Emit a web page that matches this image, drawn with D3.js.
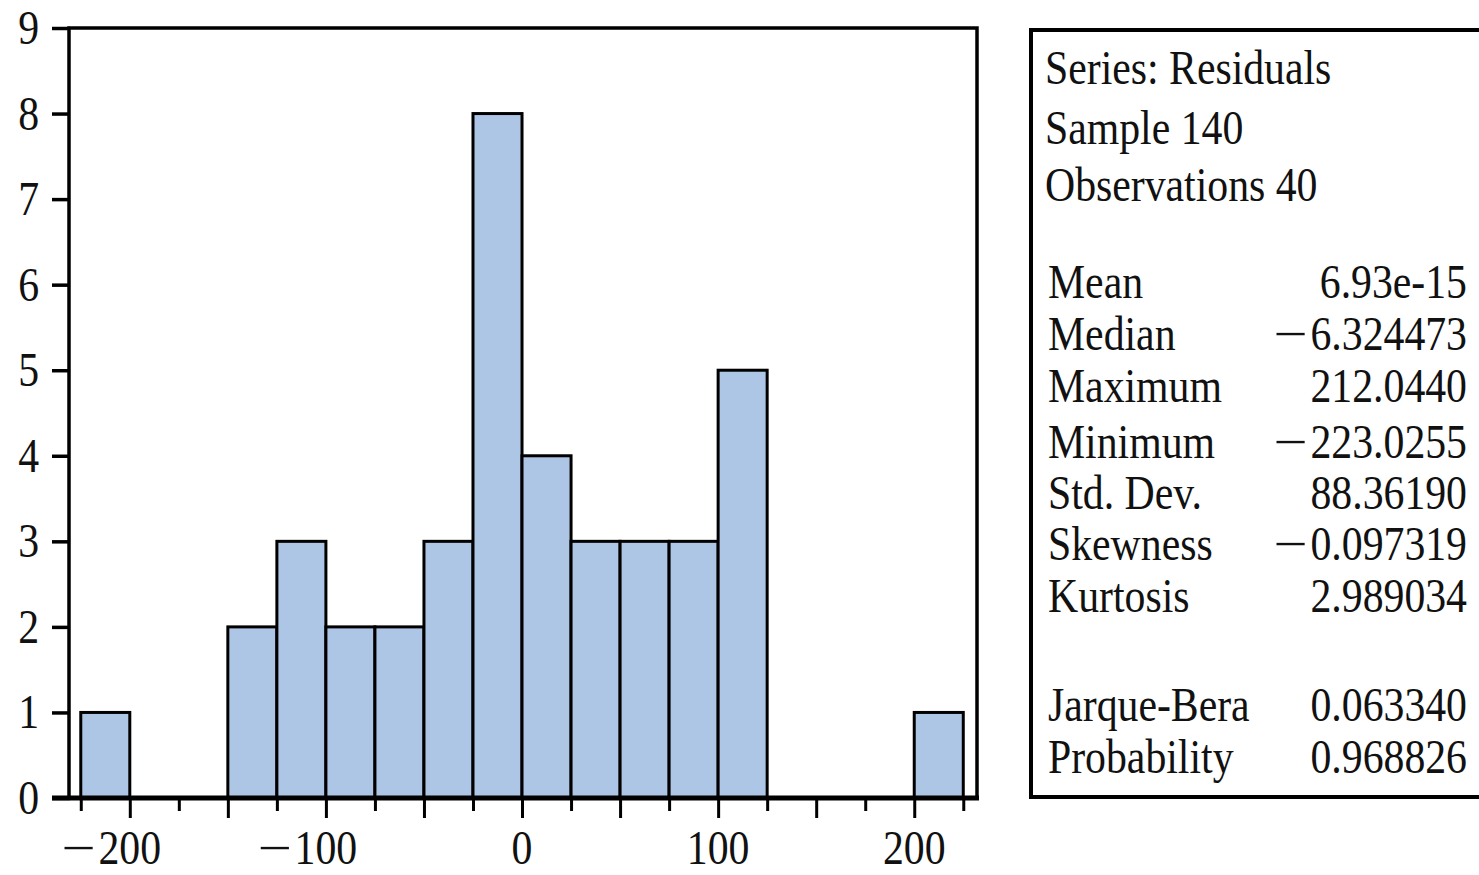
<!DOCTYPE html>
<html>
<head>
<meta charset="utf-8">
<script src="https://cdn.jsdelivr.net/npm/d3@7"></script>
<style>
body { margin: 0; background: #fff; }
svg text { font-family: "Liberation Serif", "Times New Roman", serif; fill: #111; }
</style>
</head>
<body>
<svg id="chart" width="1479" height="875"></svg>
<script>
// histogram of residuals, bins of 25
var binStarts = [-225, -200, -175, -150, -125, -100, -75, -50, -25, 0, 25, 50, 75, 100, 125, 150, 175, 200];
var binWidth = 25;
var counts = [1, 0, 0, 2, 3, 2, 2, 3, 8, 4, 3, 3, 3, 5, 0, 0, 0, 1];

var xTicks = [-225, -200, -175, -150, -125, -100, -75, -50, -25, 0, 25, 50, 75, 100, 125, 150, 175, 200, 225];
var xLabels = [-200, -100, 0, 100, 200];
var yTicks = [0, 1, 2, 3, 4, 5, 6, 7, 8, 9];

var headerLines = ["Series: Residuals", "Sample 140", "Observations 40"];
var statLabels = ["Mean", "Median", "Maximum", "Minimum", "Std. Dev.", "Skewness", "Kurtosis"];
var statValues = ["6.93e-15", "-6.324473", "212.0440", "-223.0255", "88.36190", "-0.097319", "2.989034"];
var testLabels = ["Jarque-Bera", "Probability"];
var testValues = ["0.063340", "0.968826"];

var fontSize = 48;
var sq = 0.87; // text looks horizontally squeezed in the original
var MINUS = "\u2212";

var svg = d3.select("#chart");

var x = d3.scaleLinear().domain([-231, 232]).range([69, 977]);
var y = d3.scaleLinear().domain([0, 9]).range([798, 28]);

// bars
svg.append("g").selectAll("rect")
  .data(binStarts.map((s, i) => ({start: s, count: counts[i]})).filter(d => d.count > 0))
  .enter().append("rect")
  .attr("x", d => x(d.start))
  .attr("y", d => y(d.count))
  .attr("width", d => x(d.start + binWidth) - x(d.start))
  .attr("height", d => y(0) - y(d.count))
  .attr("fill", "#aec6e6")
  .attr("stroke", "#000")
  .attr("stroke-width", 3);

// frame
svg.append("rect")
  .attr("x", 69).attr("y", 28)
  .attr("width", 977 - 69).attr("height", 798 - 28)
  .attr("fill", "none").attr("stroke", "#000").attr("stroke-width", 3.5);

svg.append("line")
  .attr("x1", 52).attr("x2", 979).attr("y1", 798).attr("y2", 798)
  .attr("stroke", "#000").attr("stroke-width", 5);

function label(tx, ty, s, anchor, sx) {
  return svg.append("text")
    .attr("transform", `translate(${tx},${ty}) scale(${sx || sq},1)`)
    .attr("text-anchor", anchor)
    .style("font-size", fontSize + "px")
    .text(s);
}

// the minus sign of the original is wider than Liberation's
function minus(rightX, ty) {
  return label(rightX, ty, MINUS, "end", sq * 1.45);
}

// right aligned value, minus drawn separately
function valueLabel(tx, ty, s) {
  var neg = s[0] === "-";
  var t = label(tx, ty, neg ? s.slice(1) : s, "end");
  if (neg) {
    var w = t.node().getComputedTextLength() * sq;
    minus(tx - w - 3, ty);
  }
}

// x axis (ticks every 25, longer at multiples of 50)
var xAxis = d3.axisBottom(x)
  .tickValues(xTicks)
  .tickSize(20)
  .tickSizeOuter(0)
  .tickFormat("");

var gx = svg.append("g").attr("transform", "translate(0,798)").call(xAxis);
gx.select(".domain").remove();
gx.selectAll(".tick line")
  .attr("stroke", "#000")
  .attr("stroke-width", 3)
  .attr("y2", d => d % 50 === 0 ? 20 : 13);

// x labels: digits centred on the tick, minus hangs to the left
xLabels.forEach(v => {
  var t = label(x(v), 864, String(Math.abs(v)), "middle");
  if (v < 0) {
    var w = t.node().getComputedTextLength() * sq;
    minus(x(v) - w / 2 - 3, 864);
  }
});

// y axis
var yAxis = d3.axisLeft(y).tickValues(yTicks).tickSize(18).tickSizeOuter(0).tickFormat("");
var gy = svg.append("g").attr("transform", "translate(70,0)").call(yAxis);
gy.select(".domain").remove();
gy.selectAll(".tick line").attr("stroke", "#000").attr("stroke-width", 3.5);

yTicks.forEach(v => label(39, y(v) + 16, String(v), "end"));

// stats box
svg.append("rect")
  .attr("x", 1031).attr("y", 30)
  .attr("width", 500).attr("height", 767)
  .attr("fill", "none").attr("stroke", "#000").attr("stroke-width", 4);

var headerY = [84, 144, 201];
headerLines.forEach((s, i) => label(1045, headerY[i], s, "start"));

var statY = [298, 350, 402, 458, 509, 560, 612];
statLabels.forEach((s, i) => {
  label(1048, statY[i], s, "start");
  valueLabel(1467, statY[i], statValues[i]);
});

var testY = [721, 773];
testLabels.forEach((s, i) => {
  label(1048, testY[i], s, "start");
  valueLabel(1467, testY[i], testValues[i]);
});
</script>
</body>
</html>
